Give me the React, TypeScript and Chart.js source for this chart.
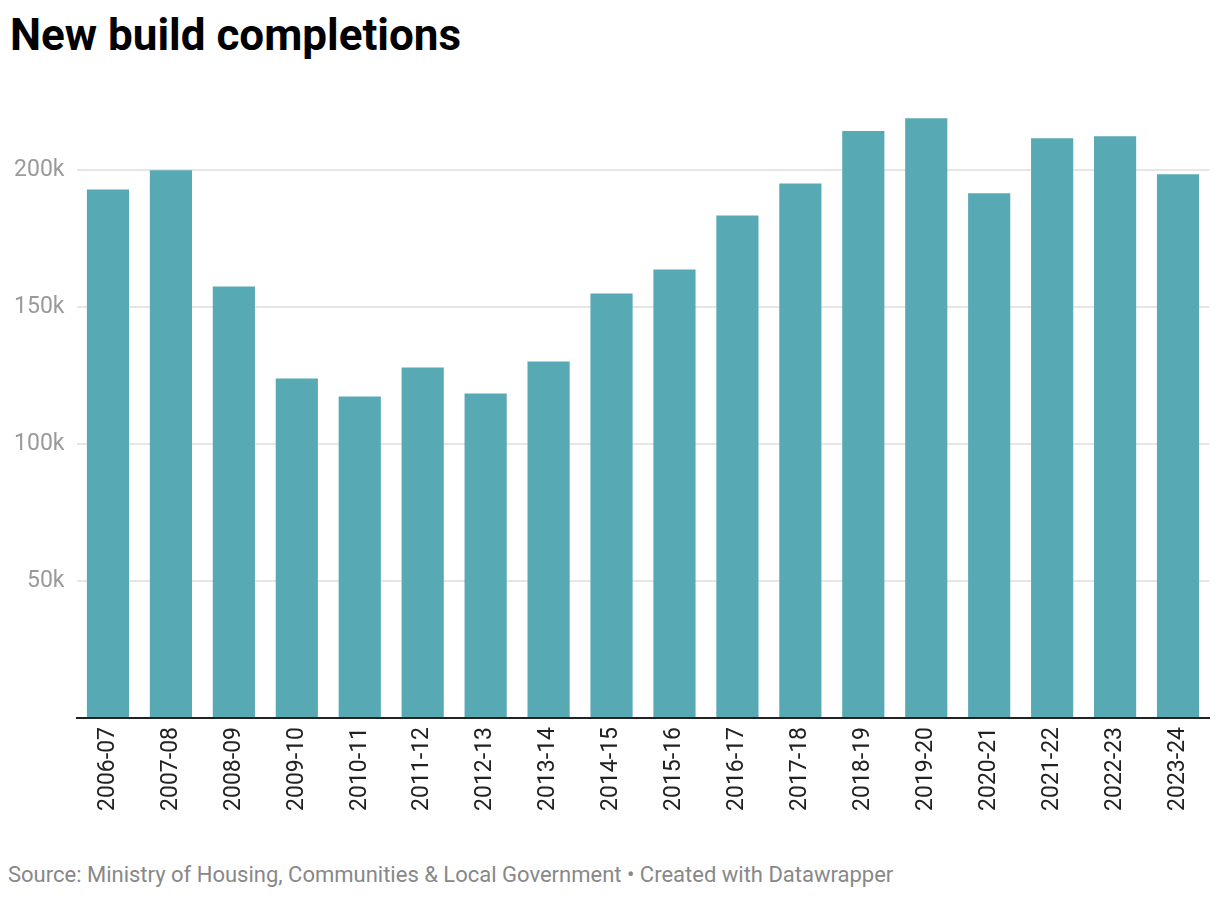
import React, { useEffect, useRef } from "react";
import { Chart, registerables } from "chart.js";

Chart.register(...registerables);

const categories = [
  "2006-07", "2007-08", "2008-09", "2009-10", "2010-11", "2011-12",
  "2012-13", "2013-14", "2014-15", "2015-16", "2016-17", "2017-18",
  "2018-19", "2019-20", "2020-21", "2021-22", "2022-23", "2023-24",
];
const completions = [
  193000, 200000, 157600, 124000, 117400, 128000,
  118500, 130200, 155000, 163800, 183500, 195200,
  214300, 219000, 191600, 211700, 212400, 198500,
];
const yTickValues = [50000, 100000, 150000, 200000];
const yMax = 225000;

const titleText = "New build completions";
const sourceText = "Source: Ministry of Housing, Communities & Local Government • Created with Datawrapper";

export default function App() {
  const canvasRef = useRef<HTMLCanvasElement | null>(null);

  useEffect(() => {
    document.body.style.margin = "0";
    const canvas = canvasRef.current;
    if (!canvas) return;
    const chart = new Chart(canvas, {
      type: "bar",
      data: {
        labels: categories,
        datasets: [
          {
            data: completions,
            backgroundColor: "#57a9b4",
            borderWidth: 0,
            categoryPercentage: 1,
            barPercentage: 0.67,
          },
        ],
      },
      options: {
        animation: false,
        responsive: false,
        maintainAspectRatio: false,
        layout: { padding: { top: 18, right: 10.5, left: 0, bottom: 0 } },
        plugins: {
          legend: { display: false },
          tooltip: { enabled: false },
          title: { display: false },
        },
        scales: {
          x: {
            offset: true,
            grid: { display: false, drawTicks: false },
            border: { display: true, color: "#222222", width: 2 },
            ticks: {
              minRotation: 90,
              maxRotation: 90,
              autoSkip: false,
              padding: 9,
              color: "#222222",
              font: { family: "Roboto", size: 23 },
            },
            afterFit: (scale: any) => {
              scale.height = 122;
            },
          },
          y: {
            min: 0,
            max: yMax,
            border: { display: false },
            grid: {
              drawTicks: false,
              lineWidth: 2,
              color: (ctx: any) =>
                ctx.tick && ctx.tick.value === 0 ? "rgba(0,0,0,0)" : "#e6e6e6",
            },
            ticks: {
              padding: 12,
              color: "#9a9a9a",
              font: { family: "Roboto", size: 23 },
              callback: (v: any) => (Number(v) === 0 ? "" : Number(v) / 1000 + "k"),
            },
            afterBuildTicks: (scale: any) => {
              scale.ticks = [0, ...yTickValues].map((v) => ({ value: v }));
            },
            afterFit: (scale: any) => {
              scale.width = 76.5;
            },
          },
        },
      },
    });
    return () => chart.destroy();
  }, []);

  return (
    <div style={{ position: "relative", width: 1220, height: 898, background: "#fff", fontFamily: "Roboto" }}>
      <div
        style={{
          position: "absolute",
          left: 10,
          top: 13,
          fontSize: 44,
          lineHeight: 1,
          fontWeight: 700,
          color: "#000",
          whiteSpace: "nowrap",
        }}
      >
        {titleText}
      </div>
      <canvas
        ref={canvasRef}
        width={1220}
        height={764}
        style={{ position: "absolute", left: 0, top: 76, width: 1220, height: 764 }}
      />
      <div
        style={{
          position: "absolute",
          left: 8,
          top: 863.5,
          fontSize: 22,
          lineHeight: 1,
          color: "#888888",
          whiteSpace: "nowrap",
        }}
      >
        {sourceText}
      </div>
    </div>
  );
}
